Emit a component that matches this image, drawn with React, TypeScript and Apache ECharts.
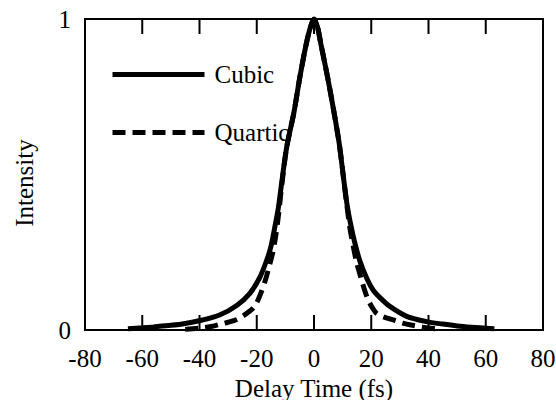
import React, { useEffect, useRef } from "react";
import * as echarts from "echarts";

const xTicks = { min: -80, max: 80, interval: 20 };
const yTicks = { min: 0, max: 1, interval: 1 };
const innerTickValues = [-60, -40, -20, 0, 20, 40, 60];
const seriesNames = ["Cubic", "Quartic"];
const xTitle = "Delay Time (fs)";
const yTitle = "Intensity";

const cubicTime = [-65, -60, -56, -50, -45, -39, -33, -27, -22.4, -19, -16.5, -15, -13.6, -12.5, -11.2, -9.5, -7, -4.9, -2.7, -1.2, 0, 1.2, 2.4, 4.7, 6.8, 8.8, 10.3, 11.6, 12.7, 14.4, 16.1, 18.5, 20.7, 23.5, 26.5, 32.4, 39.4, 45, 50, 55, 60, 63];
const cubicIntensity = [0.004, 0.007, 0.01, 0.015, 0.021, 0.032, 0.048, 0.079, 0.118, 0.168, 0.225, 0.27, 0.335, 0.39, 0.48, 0.59, 0.7, 0.815, 0.92, 0.975, 1.0, 0.975, 0.92, 0.815, 0.71, 0.6, 0.49, 0.4, 0.345, 0.275, 0.22, 0.165, 0.128, 0.1, 0.076, 0.044, 0.027, 0.019, 0.013, 0.009, 0.006, 0.004];

const quarticTime = [-45, -40, -36, -33, -30, -27, -24, -21.5, -20, -18.5, -17, -15.5, -14.5, -13.4, -12.4, -11.2, -9.5, -7, -4.9, -2.7, -1.2, 0, 1.2, 2.4, 4.7, 6.8, 8.8, 10.3, 11.5, 12.5, 13.7, 14.8, 15.7, 16.8, 17.8, 19, 20.5, 22, 25, 28.5, 31, 34, 38, 43];
const quarticIntensity = [0.002, 0.006, 0.011, 0.018, 0.025, 0.034, 0.05, 0.068, 0.088, 0.12, 0.16, 0.21, 0.245, 0.3, 0.37, 0.47, 0.59, 0.7, 0.815, 0.92, 0.975, 1.0, 0.975, 0.92, 0.815, 0.71, 0.6, 0.49, 0.4, 0.33, 0.27, 0.22, 0.19, 0.155, 0.125, 0.095, 0.07, 0.052, 0.04, 0.03, 0.022, 0.016, 0.009, 0.003];

const FONT = "'Liberation Serif', 'Times New Roman', serif";
const DASH = [13, 7];
const TICK_LEN = 15;

export default function App() {
  const ref = useRef<HTMLDivElement>(null);
  useEffect(() => {
    if (!ref.current) return;
    const chart = echarts.init(ref.current, undefined, { renderer: "svg" });
    const pair = (xs: number[], ys: number[]) => xs.map((x, i) => [x, ys[i]]);
    const xLine = { show: true, onZero: false, lineStyle: { color: "#000", width: 2 } };
    const yLine = { show: true, lineStyle: { color: "transparent", width: 0 } };
    const titleGraphic = {
      type: "text",
      x: 24,
      y: 183,
      rotation: Math.PI / 2,
      style: { text: yTitle, font: `25px ${FONT}`, fill: "#000", align: "center", verticalAlign: "middle" },
    };
    chart.setOption({
      animation: false,
      backgroundColor: "#fff",
      textStyle: { fontFamily: FONT, color: "#000" },
      grid: {
        left: 85, right: 13, top: 19, bottom: 70,
        outerBoundsMode: "none", containLabel: false,
        show: true, borderColor: "#000", borderWidth: 2, backgroundColor: "transparent",
      },
      legend: {
        orient: "vertical",
        left: 105,
        top: 57,
        itemWidth: 92,
        itemHeight: 26,
        itemGap: 33,
        selectedMode: false,
        itemStyle: { opacity: 0 },
        textStyle: { fontFamily: FONT, fontSize: 25, color: "#000", padding: [0, 0, 0, 5] },
        data: [
          { name: seriesNames[0], lineStyle: { width: 5, type: "solid", color: "#000" } },
          { name: seriesNames[1], lineStyle: { width: 5, type: DASH, color: "#000" } },
        ],
      },
      graphic: [titleGraphic],
      xAxis: [
        {
          type: "value",
          ...xTicks,
          position: "bottom",
          axisLine: xLine,
          axisTick: { show: false },
          axisLabel: { fontFamily: FONT, fontSize: 25, color: "#000", margin: 16 },
          splitLine: { show: false },
          name: xTitle,
          nameLocation: "middle",
          nameGap: 35,
          nameTextStyle: { fontFamily: FONT, fontSize: 25, lineHeight: 25, color: "#000" },
        },
      ],
      yAxis: [
        {
          type: "value",
          ...yTicks,
          position: "left",
          axisLine: yLine,
          axisTick: { show: false },
          axisLabel: { fontFamily: FONT, fontSize: 25, color: "#000", margin: 14 },
          splitLine: { show: false },
        },
      ],
      series: [
        {
          name: seriesNames[0],
          type: "line",
          data: pair(cubicTime, cubicIntensity),
          symbol: "none",
          smooth: 0.3,
          lineStyle: { color: "#000", width: 5, type: "solid" },
          itemStyle: { color: "#000" },
          z: 2,
        },
        {
          name: seriesNames[1],
          type: "line",
          data: pair(quarticTime, quarticIntensity),
          symbol: "none",
          smooth: 0.3,
          lineStyle: { color: "#000", width: 5, type: DASH },
          itemStyle: { color: "#000" },
          z: 3,
        },
      ],
    });

    // Inward frame ticks, placed through the chart's own scales.
    const tickGraphics: any[] = [];
    innerTickValues.forEach((v) => {
      const b = chart.convertToPixel({ gridIndex: 0 }, [v, yTicks.min]) as number[];
      const t = chart.convertToPixel({ gridIndex: 0 }, [v, yTicks.max]) as number[];
      if (!b || !t) return;
      tickGraphics.push({
        type: "rect",
        shape: { x: b[0] - 1, y: b[1] - TICK_LEN, width: 2, height: TICK_LEN },
        style: { fill: "#000" },
        z: 10,
      });
      tickGraphics.push({
        type: "rect",
        shape: { x: t[0] - 1, y: t[1], width: 2, height: TICK_LEN },
        style: { fill: "#000" },
        z: 10,
      });
    });
    chart.setOption({ graphic: [titleGraphic, ...tickGraphics] });

    return () => chart.dispose();
  }, []);
  return <div ref={ref} style={{ position: "absolute", left: 0, top: 0, width: 556, height: 400 }} />;
}
